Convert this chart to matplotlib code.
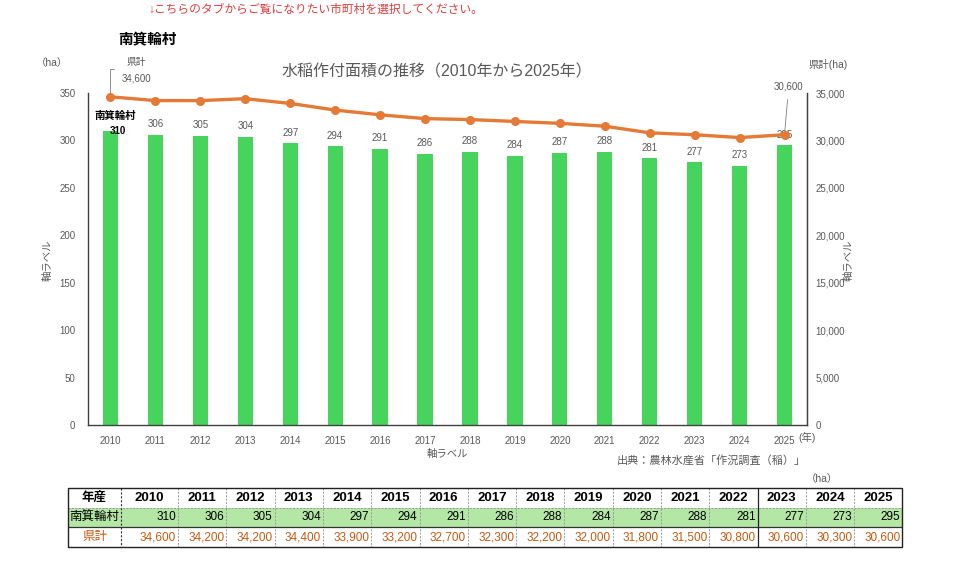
import matplotlib
matplotlib.use("Agg")
import matplotlib.pyplot as plt
from matplotlib.patches import Rectangle
from matplotlib.ticker import FuncFormatter

plt.rcParams["font.family"] = ["Liberation Sans", "Noto Sans CJK JP", "DejaVu Sans"]

years = [2010, 2011, 2012, 2013, 2014, 2015, 2016, 2017,
         2018, 2019, 2020, 2021, 2022, 2023, 2024, 2025]
village = [310, 306, 305, 304, 297, 294, 291, 286,
           288, 284, 287, 288, 281, 277, 273, 295]
pref = [34600, 34200, 34200, 34400, 33900, 33200, 32700, 32300,
        32200, 32000, 31800, 31500, 30800, 30600, 30300, 30600]
village_name = "南箕輪村"
pref_name = "県計"

GREEN = "#47D45C"
ORANGE = "#E47A35"
GREY = "#595959"
W, H = 960, 568

fig = plt.figure(figsize=(9.6, 5.68), dpi=100)
fig.patch.set_facecolor("white")


def fx(px):
    return px / W


def fy(py):
    return 1 - py / H


# main chart
ax = fig.add_axes([fx(88), fy(425), fx(807) - fx(88), fy(93) - fy(425)])
x = list(range(len(years)))
ax.bar(x, village, width=0.34, color=GREEN, zorder=2)
ax.set_xlim(-0.5, len(years) - 0.5)
ax.set_ylim(0, 350)
ax.set_yticks(range(0, 351, 50))
ax.set_xticks(x)
ax.set_xticklabels([str(y) for y in years])
ax.tick_params(length=0, labelsize=7, colors=GREY, pad=8)
ax.tick_params(axis="y", pad=9)
ax.spines["top"].set_visible(False)
for s in ["left", "bottom", "right"]:
    ax.spines[s].set_color("#404040")
    ax.spines[s].set_linewidth(1.0)

for i, v in enumerate(village):
    if i == 0:
        continue
    ax.annotate(str(v), (i, v), xytext=(0, 4), textcoords="offset points",
                ha="center", va="bottom", fontsize=7, color=GREY, zorder=5)
ax.annotate(str(village[0]), (0, village[0]), xytext=(5, 0),
            textcoords="offset points", ha="center", va="center",
            fontsize=7, fontweight="bold", color="black", zorder=5)
ax.annotate(village_name, (0, village[0]), xytext=(3, 11),
            textcoords="offset points", ha="center", va="center",
            fontsize=7.5, fontweight="bold", color="black", zorder=5)

ax2 = ax.twinx()
ax2.plot(x, pref, color=ORANGE, lw=2.4, marker="o", ms=5.5, zorder=4)
ax2.set_ylim(0, 35000)
ax2.set_yticks(range(0, 35001, 5000))
ax2.yaxis.set_major_formatter(FuncFormatter(lambda v, _: f"{int(v):,}"))
ax2.tick_params(length=0, labelsize=7, colors=GREY, pad=6)
ax2.spines["top"].set_visible(False)
ax2.spines["left"].set_visible(False)
ax2.spines["bottom"].set_visible(False)
ax2.spines["right"].set_color("#404040")

# data labels for the line (first and last)
ax2.annotate("", xy=(0, pref[0]), xytext=(0.15, pref[0] + 2950),
             arrowprops=dict(arrowstyle="-", color="#7f7f7f", lw=0.6,
                             connectionstyle="angle,angleA=0,angleB=90,rad=0"))
ax2.annotate(f"{pref[0]:,}", (0, pref[0]), xytext=(8, 13),
             textcoords="offset points", ha="left", va="center",
             fontsize=7, color=GREY)
ax2.annotate(pref_name, (0, pref[0]), xytext=(11.5, 25),
             textcoords="offset points", ha="left", va="center",
             fontsize=7, color=GREY)
last = len(years) - 1
ax2.annotate(f"{pref[last]:,}", (last, pref[last]), xytext=(3, 35),
             textcoords="offset points", ha="center", va="center",
             fontsize=7, color=GREY,
             arrowprops=dict(arrowstyle="-", color="#7f7f7f", lw=0.6,
                             shrinkA=4, shrinkB=0))

# texts around the chart
fig.text(fx(148), fy(10), "↓こちらのタブからご覧になりたい市町村を選択してください。",
         fontsize=8.5, color="#E03C3C", va="center", ha="left")
fig.text(fx(118), fy(40), village_name, fontsize=10.5, fontweight="bold",
         va="center", ha="left")
fig.text(fx(437), fy(72), "水稲作付面積の推移（2010年から2025年）",
         fontsize=11.5, color=GREY, va="center", ha="center")
fig.text(fx(36), fy(63), "（ha）", fontsize=7.5, color=GREY, va="center", ha="left")
fig.text(fx(808), fy(65), "県計(ha)", fontsize=7.5, color=GREY, va="center", ha="left")
fig.text(fx(48), fy(260), "軸ラベル", fontsize=7.5, color=GREY, rotation=90,
         va="center", ha="center")
fig.text(fx(849), fy(260), "軸ラベル", fontsize=7.5, color=GREY, rotation=90,
         va="center", ha="center")
fig.text(fx(447), fy(454), "軸ラベル", fontsize=7.5, color=GREY, va="center", ha="center")
fig.text(fx(798), fy(437), "(年)", fontsize=7.5, color=GREY, va="center", ha="left")
fig.text(fx(806), fy(460), "出典：農林水産省「作況調査（稲）」", fontsize=8,
         color=GREY, va="center", ha="right")
fig.text(fx(806), fy(479), "（ha）", fontsize=7.5, color=GREY, va="center", ha="left")

# table
t_left, t_right, t_top, t_bot = 68, 902, 488, 547
tab = fig.add_axes([fx(t_left), fy(t_bot), fx(t_right) - fx(t_left),
                    fy(t_top) - fy(t_bot)])
tab.set_xlim(0, t_right - t_left)
tab.set_ylim(t_bot - t_top, 0)
tab.axis("off")

col_w = [53, 57] + [48.3] * (len(years) - 1)
edges = [0]
for w in col_w:
    edges.append(edges[-1] + w)
row_edges = [0, 20, 39, 59]

tab.add_patch(Rectangle((0, row_edges[1]), edges[-1], row_edges[2] - row_edges[1],
                        facecolor="#B4E6A6", edgecolor="none", zorder=0))

rows = [("年産", [str(y) for y in years], "black"),
        (village_name, [str(v) for v in village], "black"),
        (pref_name, [f"{v:,}" for v in pref], "#C55A11")]
for r, (head, vals, col) in enumerate(rows):
    yc = (row_edges[r] + row_edges[r + 1]) / 2
    tab.text(col_w[0] / 2, yc, head, ha="center", va="center", fontsize=9,
             color=col, fontweight="bold" if r == 0 else "normal")
    for j, s in enumerate(vals):
        if r == 0:
            tab.text((edges[j + 1] + edges[j + 2]) / 2, yc, s, ha="center",
                     va="center", fontsize=9.5, fontweight="bold", color=col)
        else:
            tab.text(edges[j + 2] - 2, yc, s, ha="right", va="center",
                     fontsize=8.5, color=col)

# grid lines
for j, e in enumerate(edges[1:-1], start=1):
    if j == 1:
        tab.plot([e, e], [0, row_edges[-1]], color="#333333", lw=0.8, ls=(0, (2, 1.5)))
    elif years[j - 1] == 2023:
        tab.plot([e, e], [0, row_edges[-1]], color="#222222", lw=0.9)
    else:
        tab.plot([e, e], [0, row_edges[-1]], color="#9a9a9a", lw=0.7, ls=(0, (2, 1.5)))
tab.plot([0, edges[-1]], [row_edges[1]] * 2, color="#9a9a9a", lw=0.7, ls=(0, (2, 1.5)))
tab.plot([0, edges[-1]], [row_edges[2]] * 2, color="#333333", lw=0.9)
tab.add_patch(Rectangle((0, 0), edges[-1], row_edges[-1], facecolor="none",
                        edgecolor="#222222", lw=1.0, zorder=5, clip_on=False))

fig.savefig("out.png", dpi=100, facecolor="white")
